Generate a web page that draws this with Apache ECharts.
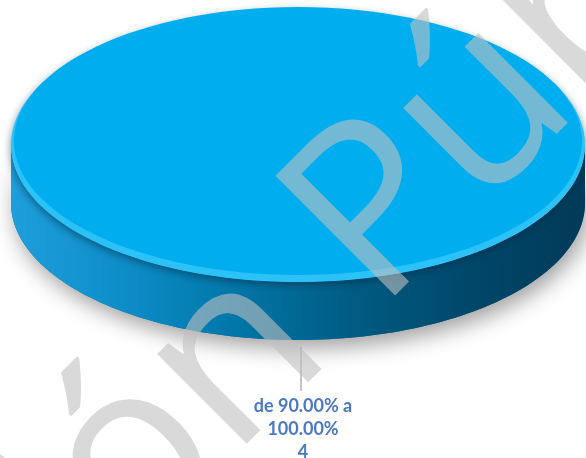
<!DOCTYPE html>
<html>
<head>
<meta charset="utf-8">
<script src="https://cdn.jsdelivr.net/npm/echarts@6/dist/echarts.min.js"></script>
<style>
html,body{margin:0;padding:0;background:#fff;}
#c{width:586px;height:458px;}
</style>
</head>
<body>
<div id="c"></div>
<script>
// ---- data ----
const categories = ['de 90.00% a 100.00%'];
const labelLines = [['de 90.00% a', '100.00%']];
const values = [4];
const watermarkBefore = 'Versión ';
const watermarkAfter = 'Pública';

const chart = echarts.init(document.getElementById('c'), null, {renderer: 'canvas'});
const total = values.reduce((a, b) => a + b, 0);

function ellipsePts(cx, cy, rx, ry, a0, a1, n) {
  const pts = [];
  for (let i = 0; i <= n; i++) {
    const t = a0 + (a1 - a0) * i / n;
    pts.push([cx + rx * Math.cos(t), cy + ry * Math.sin(t)]);
  }
  return pts;
}

function renderItem(params, api) {
  const idx = params.dataIndex;
  let before = 0;
  for (let i = 0; i < idx; i++) before += values[i];
  const v = api.value(0);
  const a0 = before / total * Math.PI * 2;
  const a1 = (before + v) / total * Math.PI * 2;
  const cx = 298, cy = 145, rx = 287, ry = 137, h = 58;
  const children = [];
  const s0 = Math.max(a0, 0), s1 = Math.min(a1, Math.PI);
  if (s1 > s0) {
    const top = ellipsePts(cx, cy, rx, ry, s0, s1, 120);
    const bot = ellipsePts(cx, cy + h, rx, ry, s1, s0, 120);
    const sidePts = top.concat(bot);
    children.push({
      type: 'polygon', shape: {points: sidePts},
      style: {fill: '#0b6f9c', shadowBlur: 22, shadowColor: 'rgba(0,0,0,0.38)', shadowOffsetX: 4, shadowOffsetY: 8}
    });
    children.push({
      type: 'polygon', shape: {points: sidePts},
      style: {
        fill: new echarts.graphic.LinearGradient(0, 0, 1, 0, [
          {offset: 0, color: '#1e9fdc'},
          {offset: 0.2, color: '#0d8dc8'},
          {offset: 0.4, color: '#0075a6'},
          {offset: 0.6, color: '#005b82'},
          {offset: 0.8, color: '#00476a'},
          {offset: 1, color: '#003a58'}
        ])
      }
    });
  }
  const full = (a1 - a0) >= Math.PI * 2 - 1e-9;
  if (full) {
    children.push({
      type: 'ellipse', shape: {cx: cx, cy: cy, rx: rx, ry: ry},
      style: {fill: '#2bc2f7', shadowBlur: 8, shadowColor: 'rgba(0,40,70,0.55)', shadowOffsetY: 3}
    });
    children.push({
      type: 'ellipse', shape: {cx: cx, cy: cy - 4, rx: rx - 3, ry: ry - 3},
      style: {fill: '#00aeef'}
    });
  } else {
    const pts = [[cx, cy]].concat(ellipsePts(cx, cy, rx, ry, a0, a1, 200));
    children.push({type: 'polygon', shape: {points: pts}, style: {fill: '#00aeef'}});
  }
  const mid = (a0 + a1) / 2;
  const lx = full ? cx + 3 : cx + rx * Math.cos(mid);
  const ly = full ? cy + ry + h : cy + ry * Math.sin(mid) + h;
  children.push({
    type: 'line', shape: {x1: lx, y1: ly + 7, x2: lx, y2: ly + 51},
    style: {stroke: '#a6a6a6', lineWidth: 1.3}
  });
  const lines = labelLines[idx].concat([String(v)]);
  children.push({
    type: 'text', x: lx + 2, y: ly + 89,
    style: {
      text: lines.join('\n'), align: 'center', verticalAlign: 'middle',
      font: 'bold 18px Lato', lineHeight: 23, fill: '#4a78c4'
    }
  });
  return {type: 'group', children: children};
}

const wmX = 331, wmY = 264, wmRot = 45 * Math.PI / 180;
const wmStyle = {font: '400 237px "Open Sans"', fill: 'rgba(191,191,191,0.6)', verticalAlign: 'middle'};

chart.setOption({
  animation: false,
  series: [{
    type: 'custom',
    coordinateSystem: 'none',
    renderItem: renderItem,
    data: values.map((v, i) => ({name: categories[i], value: [v]}))
  }],
  graphic: [
    {type: 'text', x: wmX, y: wmY, rotation: wmRot, z: 100, silent: true,
     style: Object.assign({text: watermarkBefore, align: 'right'}, wmStyle)},
    {type: 'text', x: wmX, y: wmY, rotation: wmRot, z: 100, silent: true,
     style: Object.assign({text: watermarkAfter, align: 'left'}, wmStyle)}
  ]
});
</script>
</body>
</html>
